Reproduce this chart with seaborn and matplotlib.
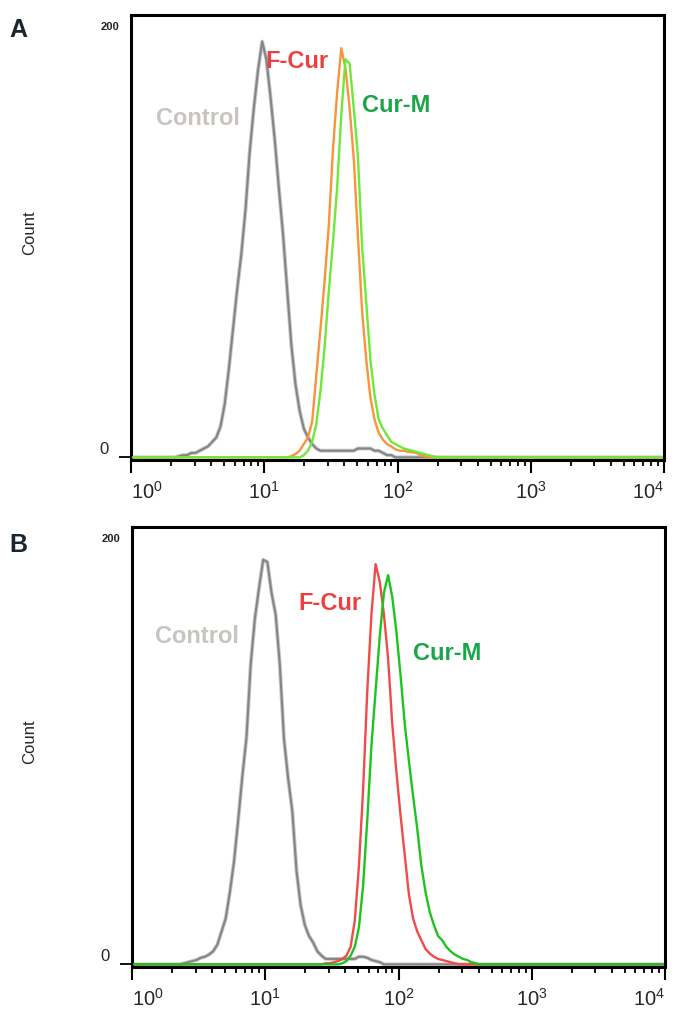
import numpy as np
import pandas as pd
import matplotlib
matplotlib.use("Agg")
import matplotlib.pyplot as plt
import seaborn as sns

# ---------------- data (histogram channels, 32 channels per decade, 4 decades) ----------------
n_channels = 128
decades = 4
x_ticklabels = ["$10^{0}$", "$10^{1}$", "$10^{2}$", "$10^{3}$", "$10^{4}$"]
x_ticks = [1, 10, 100, 1000, 10000]

# Panel A
a_control_start = 11
a_control = [0.5, 1, 1, 2, 2, 3, 4, 5, 7, 9, 14, 24, 40, 58, 76, 92, 112, 138, 158, 175, 188,
             180, 163, 144, 122, 101, 76, 51, 33, 21, 13, 9, 6, 4, 3, 3, 3, 3, 3, 3, 3, 3, 3,
             4, 4, 4, 4, 3, 3, 2, 1, 1, 0]
a_fcur_start = 38
a_fcur = [0.5, 1.5, 3, 6, 9, 16, 37, 58, 80, 105, 139, 165, 185, 176, 158, 135, 100, 66, 44,
          27, 17, 11, 8, 6, 5, 3.6, 3, 3, 2.5, 2.3, 2, 1, 0.5]
a_curm_start = 41
a_curm = [1, 3, 7, 15, 30, 50, 75, 97, 122, 155, 180, 178, 158, 136, 95, 70, 44, 28, 17, 13,
          10, 7, 6, 5, 4, 3.5, 3, 2.5, 2, 1.5, 1, 0.5]

# Panel B
b_control_start = 12
b_control = [0.5, 1, 1.5, 2, 3, 3.5, 4.5, 6, 9, 15, 21, 33, 47, 66, 86, 104, 137, 158, 172, 185,
             184, 170, 160, 137, 103, 85, 70, 43, 27, 18, 13, 10, 6, 4, 2.5, 2.5, 2.5, 2.5, 2.5,
             2.5, 2.5, 2.5, 3.5, 3.5, 3, 2, 1.5, 1, 0]
b_fcur_start = 46
b_fcur = [0.5, 0.5, 1, 1.5, 2.5, 4, 8, 20, 45, 80, 125, 160, 183, 175, 160, 140, 110, 88, 68, 50,
          32, 21, 15, 11, 7, 5, 3.5, 2.5, 2, 1.5, 1, 0.5]
b_curm_start = 50
b_curm = [0.5, 1.5, 4, 8, 17, 36, 66, 100, 125, 150, 170, 178, 168, 152, 132, 110, 93, 77, 62,
          45, 33, 24, 18, 13, 11, 8, 6, 4.5, 3.5, 2.5, 2, 1, 0.5]

labels = ["Control", "F-Cur", "Cur-M"]


def full(start, vals):
    arr = np.zeros(n_channels)
    arr[start:start + len(vals)] = vals
    return arr


centers = 10 ** ((np.arange(n_channels) + 0.5) * decades / n_channels)

panels = {
    "A": pd.DataFrame({"fl": centers,
                       "Control": full(a_control_start, a_control),
                       "F-Cur": full(a_fcur_start, a_fcur),
                       "Cur-M": full(a_curm_start, a_curm)}),
    "B": pd.DataFrame({"fl": centers,
                       "Control": full(b_control_start, b_control),
                       "F-Cur": full(b_fcur_start, b_fcur),
                       "Cur-M": full(b_curm_start, b_curm)}),
}

# ---------------- style ----------------
sns.set_style("white")
plt.rcParams["font.family"] = ["Liberation Sans", "DejaVu Sans"]
plt.rcParams["mathtext.fontset"] = "custom"
plt.rcParams["mathtext.rm"] = "Liberation Sans"
plt.rcParams["mathtext.it"] = "Liberation Sans"
plt.rcParams["mathtext.bf"] = "Liberation Sans:bold"

W, H = 683, 1019
fig = plt.figure(figsize=(W / 100, H / 100), dpi=100)

line_styles = {
    "A": {"F-Cur": "#f7943c", "Cur-M": "#6ee83a"},
    "B": {"F-Cur": "#f04a4a", "Cur-M": "#1ec41e"},
}
text_colors = {"Control": "#c8c4c0", "F-Cur": "#ec4040", "Cur-M": "#1aa548"}

# axes rectangles in pixels: left, top, right, bottom
rects = {"A": (131, 15, 664, 460), "B": (132, 527, 665, 967)}
label_pos = {
    "A": {"Control": (3.2, 153), "F-Cur": (17.5, 179), "Cur-M": (98, 159)},
    "B": {"Control": (3.05, 150), "F-Cur": (30.5, 165), "Cur-M": (232, 142)},
}
letter_y = {"A": 30, "B": 545}

for key, df in panels.items():
    l, t, r, b = rects[key]
    ax = fig.add_axes([l / W, 1 - b / H, (r - l) / W, (b - t) / H])
    ax.set_xscale("log")
    # control: light + dark gray overlay
    sns.lineplot(data=df, x="fl", y="Control", ax=ax, color="#c9c9c9", lw=2.8, zorder=2)
    sns.lineplot(data=df, x="fl", y="Control", ax=ax, color="#858585", lw=1.5, zorder=3)
    sns.lineplot(data=df, x="fl", y="F-Cur", ax=ax, color=line_styles[key]["F-Cur"], lw=1.7,
                 zorder=4)
    sns.lineplot(data=df, x="fl", y="Cur-M", ax=ax, color=line_styles[key]["Cur-M"], lw=1.7,
                 zorder=5)

    ax.set_xlim(1, 10000)
    ax.set_ylim(-1.2, 200)
    ax.set_xlabel("")
    ax.set_ylabel("")
    for s in ax.spines.values():
        s.set_visible(True)
        s.set_color("black")
        s.set_linewidth(2.2)

    ax.set_xticks(x_ticks)
    ax.set_xticklabels(x_ticklabels, fontsize=14.5)
    ax.xaxis.set_minor_locator(matplotlib.ticker.LogLocator(base=10, subs=np.arange(2, 10)))
    ax.xaxis.set_minor_formatter(matplotlib.ticker.NullFormatter())
    ax.tick_params(axis="x", which="major", direction="out", length=9, width=1.5,
                   color="black", pad=6, bottom=True)
    ax.tick_params(axis="x", which="minor", direction="out", length=4.5, width=1.3,
                   color="black", bottom=True)
    tl = ax.get_xticklabels()
    tl[0].set_ha("left")
    tl[-1].set_ha("right")

    ax.set_yticks([0])
    ax.set_yticklabels(["0"], fontsize=12)
    ax.tick_params(axis="y", which="major", direction="out", length=9, width=1.3,
                   color="black", pad=7, left=True)
    ax.get_yticklabels()[0].set_va("bottom")
    ax.text(-0.022, 0.985, "200", transform=ax.transAxes, ha="right", va="top",
            fontsize=8, fontweight="bold", color="#222222")

    for name in labels:
        xx, yy = label_pos[key][name]
        ax.text(xx, yy, name, color=text_colors[name], fontsize=17, fontweight="bold",
                ha="center", va="center", zorder=6)

    fig.text(30 / W, 1 - ((t + b) / 2 - 5) / H, "Count", rotation=90, ha="center", va="center",
             fontsize=12, family=["Liberation Sans Narrow", "Liberation Sans", "DejaVu Sans"])
    fig.text(18 / W, 1 - letter_y[key] / H, key, ha="center", va="center", fontsize=18,
             fontweight="bold", color="#1a2530")

fig.savefig("out.png", dpi=100)
